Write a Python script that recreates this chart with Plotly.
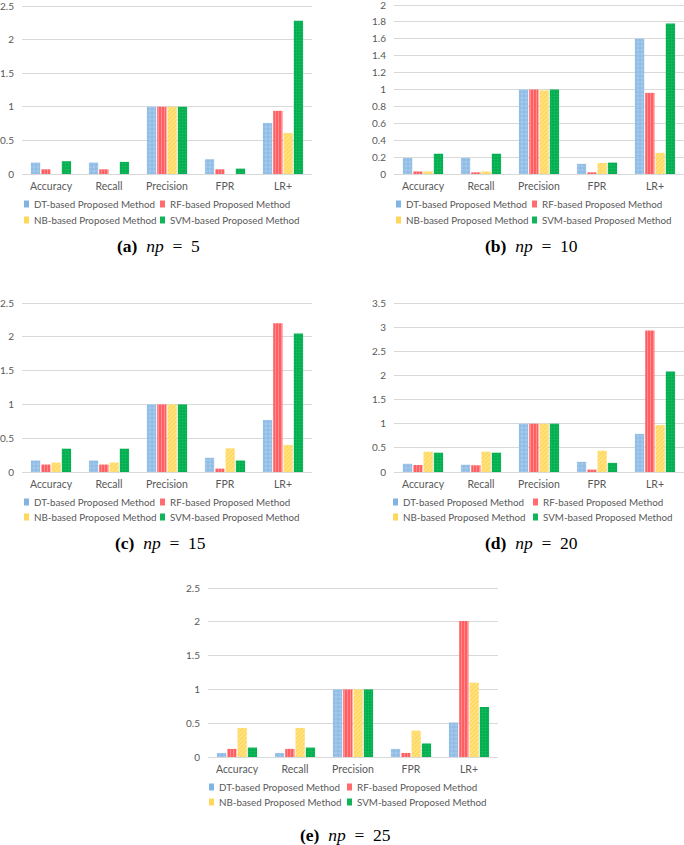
import plotly.graph_objects as go

categories = ["Accuracy", "Recall", "Precision", "FPR", "LR+"]
methods = ["DT-based Proposed Method", "RF-based Proposed Method",
           "NB-based Proposed Method", "SVM-based Proposed Method"]

# np = 5
np5_dt = [0.17, 0.17, 1.0, 0.22, 0.76]
np5_rf = [0.07, 0.07, 1.0, 0.07, 0.94]
np5_nb = [0.0, 0.0, 1.0, 0.0, 0.61]
np5_svm = [0.19, 0.18, 1.0, 0.08, 2.28]
# np = 10
np10_dt = [0.19, 0.19, 1.0, 0.12, 1.60]
np10_rf = [0.03, 0.02, 1.0, 0.02, 0.96]
np10_nb = [0.03, 0.03, 0.99, 0.13, 0.25]
np10_svm = [0.24, 0.24, 1.0, 0.135, 1.78]
# np = 15
np15_dt = [0.17, 0.17, 1.0, 0.21, 0.77]
np15_rf = [0.11, 0.11, 1.0, 0.05, 2.20]
np15_nb = [0.14, 0.14, 1.0, 0.35, 0.40]
np15_svm = [0.345, 0.345, 1.0, 0.17, 2.05]
# np = 20
np20_dt = [0.17, 0.15, 1.0, 0.21, 0.79]
np20_rf = [0.145, 0.14, 1.0, 0.05, 2.93]
np20_nb = [0.42, 0.42, 1.0, 0.44, 0.97]
np20_svm = [0.40, 0.40, 1.0, 0.19, 2.08]
# np = 25
np25_dt = [0.06, 0.06, 1.0, 0.12, 0.51]
np25_rf = [0.12, 0.12, 1.0, 0.06, 2.01]
np25_nb = [0.43, 0.43, 1.0, 0.39, 1.10]
np25_svm = [0.14, 0.14, 1.0, 0.20, 0.74]

captions = ["<b>(a)</b>&nbsp;&nbsp;<i>np</i>&nbsp;&nbsp;=&nbsp;&nbsp;5",
            "<b>(b)</b>&nbsp;&nbsp;<i>np</i>&nbsp;&nbsp;=&nbsp;&nbsp;10",
            "<b>(c)</b>&nbsp;&nbsp;<i>np</i>&nbsp;&nbsp;=&nbsp;&nbsp;15",
            "<b>(d)</b>&nbsp;&nbsp;<i>np</i>&nbsp;&nbsp;=&nbsp;&nbsp;20",
            "<b>(e)</b>&nbsp;&nbsp;<i>np</i>&nbsp;&nbsp;=&nbsp;&nbsp;25"]
y_max = [2.5, 2.0, 2.5, 3.5, 2.5]
y_dtick = [0.5, 0.2, 0.5, 0.5, 0.5]

panels = [
    [np5_dt, np5_rf, np5_nb, np5_svm],
    [np10_dt, np10_rf, np10_nb, np10_svm],
    [np15_dt, np15_rf, np15_nb, np15_svm],
    [np20_dt, np20_rf, np20_nb, np20_svm],
    [np25_dt, np25_rf, np25_nb, np25_svm],
]

W, H = 684, 845
# pixel geometry: (x0, x1, y_zero_px, y_top_px)
geom = [
    (22, 312, 174, 6),
    (394, 684, 174, 5),
    (22, 312, 472, 303),
    (394, 684, 472, 303),
    (208, 498, 757, 588),
]
PAD = 3  # extra px above top tick so its gridline is drawn
# legend: (text_start_px, column step px, row1_y_px, row2_y_px)
leg_geom = [
    (32, 136, 204, 220),
    (404, 136, 204, 220),
    (32, 136, 502, 517),
    (401, 140, 502, 517),
    (217, 138, 787, 802),
]
cap_geom = [(158, 246), (531, 246), (160, 543), (531, 543), (345, 835)]

styles = [
    dict(color="#A3C8EA", pattern=dict(shape="+", fgcolor="#5B9BD5", size=4, solidity=0.3, fillmode="overlay")),
    dict(color="#FF5F63", pattern=dict(shape="|", fgcolor="#FFC4C5", size=3, solidity=0.3, fillmode="overlay")),
    dict(color="#FFE38A", pattern=dict(shape="/", fgcolor="#FFC000", size=3, solidity=0.35, fillmode="overlay")),
    dict(color="#00B050", pattern=dict(shape="+", fgcolor="#5CCB8C", size=3, solidity=0.2, fillmode="overlay")),
]
swatch_colors = ["#7FB4E3", "#FF6B6E", "#FFD75A", "#12B45A"]

font_fam = "Lato, Open Sans, sans-serif"
grey = "#595959"

fig = go.Figure()
layout = dict(width=W, height=H, margin=dict(l=0, r=0, t=0, b=0, autoexpand=False),
              plot_bgcolor="white", paper_bgcolor="white",
              barmode="group", bargap=0.29, bargroupgap=0.1, showlegend=False,
              font=dict(family=font_fam, color=grey, size=10))
annotations = []
shapes = []

for p, series in enumerate(panels):
    sfx = "" if p == 0 else str(p + 1)
    x0, x1, yz, yt = geom[p]
    for m, vals in enumerate(series):
        fig.add_trace(go.Bar(
            x=categories, y=vals, name=methods[m],
            marker=dict(color=styles[m]["color"], pattern=styles[m]["pattern"], line=dict(width=0)),
            xaxis="x" + sfx, yaxis="y" + sfx, hoverinfo="skip",
        ))
    span = yz - yt
    layout["xaxis" + sfx] = dict(domain=[x0 / W, x1 / W], anchor="y" + sfx,
                                 showgrid=False, showline=False, zeroline=False,
                                 ticks="", tickfont=dict(size=10.5, color=grey),
                                 ticklabelstandoff=4, fixedrange=True, automargin=False)
    layout["yaxis" + sfx] = dict(domain=[1 - yz / H, 1 - (yt - PAD) / H], anchor="x" + sfx,
                                 range=[0, y_max[p] * (span + PAD) / span],
                                 tick0=0, dtick=y_dtick[p],
                                 showgrid=True, gridcolor="#D9D9D9", gridwidth=1,
                                 zeroline=True, zerolinecolor="#D9D9D9", zerolinewidth=1,
                                 showline=False, ticks="",
                                 tickfont=dict(size=10, color=grey),
                                 ticklabelstandoff=7, ticklabeloverflow="allow",
                                 fixedrange=True, automargin=False)
    tx, step, r1, r2 = leg_geom[p]
    for m in range(4):
        lx = tx + (m % 2) * step
        ly = [r1, r2][m // 2]
        shapes.append(dict(type="rect", xref="paper", yref="paper",
                           x0=(lx - 8) / W, x1=(lx - 3) / W,
                           y0=1 - (ly + 3.5) / H, y1=1 - (ly - 3.5) / H,
                           fillcolor=swatch_colors[m], line=dict(width=0)))
        annotations.append(dict(text=methods[m], x=lx / W, y=1 - ly / H,
                                xref="paper", yref="paper", showarrow=False,
                                xanchor="left", yanchor="middle",
                                font=dict(family=font_fam, size=9.8, color=grey)))
    cx, cy = cap_geom[p]
    annotations.append(dict(text=captions[p], x=cx / W, y=1 - cy / H,
                            xref="paper", yref="paper", showarrow=False,
                            xanchor="center", yanchor="middle",
                            font=dict(family="Liberation Serif, DejaVu Serif, serif",
                                      size=17.5, color="black")))

layout["annotations"] = annotations
layout["shapes"] = shapes
fig.update_layout(**layout)
fig.write_html("out.html", config={"displayModeBar": False, "staticPlot": True},
               post_script="document.body.style.margin='0';document.body.style.overflow='hidden';")
